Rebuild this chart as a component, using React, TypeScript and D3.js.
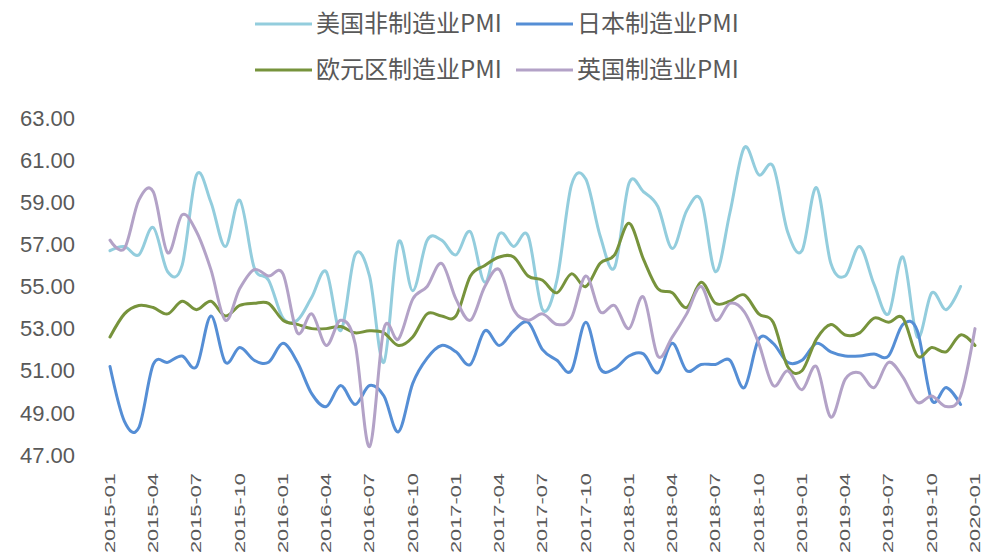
import React from "react";
import * as d3 from "d3";

// month categories 2015-01 .. 2020-01
const months = d3
    .timeMonth.range(new Date(2015, 0, 1), new Date(2020, 1, 1))
    .map(d3.timeFormat("%Y-%m"));

const tickLabels = [
    "2015-01", "2015-04", "2015-07", "2015-10",
    "2016-01", "2016-04", "2016-07", "2016-10",
    "2017-01", "2017-04", "2017-07", "2017-10",
    "2018-01", "2018-04", "2018-07", "2018-10",
    "2019-01", "2019-04", "2019-07", "2019-10",
    "2020-01",
];

const yTicks = [47, 49, 51, 53, 55, 57, 59, 61, 63];

const usServices = [
    56.7, 56.9, 56.5, 57.8, 55.7, 56.0, 60.3, 59.0, 56.9, 59.1, 55.9, 55.3,
    53.5, 53.4, 54.5, 55.7, 52.9, 56.5, 55.5, 51.4, 57.1, 54.8, 57.2, 57.2,
    56.5, 57.6, 55.2, 57.5, 56.9, 57.4, 53.9, 55.3, 59.8, 60.1, 57.4, 55.9,
    59.9, 59.5, 58.8, 56.8, 58.6, 59.1, 55.7, 58.5, 61.6, 60.3, 60.7, 57.6,
    56.7, 59.7, 56.1, 55.5, 56.9, 55.1, 53.7, 56.4, 52.6, 54.7, 53.9, 55.0,
];

const japanMfg = [
    51.2, 48.6, 48.3, 51.3, 51.4, 51.7, 51.2, 53.6, 51.4, 52.1, 51.5, 51.4,
    52.3, 51.4, 49.9, 49.3, 50.3, 49.4, 50.3, 49.8, 48.1, 50.4, 51.6, 52.2,
    51.9, 51.3, 52.9, 52.2, 52.9, 53.3, 52.0, 51.5, 51.0, 53.3, 51.1, 51.1,
    51.7, 51.8, 50.9, 52.3, 51.0, 51.3, 51.3, 51.5, 50.2, 52.5, 52.3, 51.4,
    51.5, 52.3, 51.9, 51.7, 51.7, 51.8, 51.7, 53.2, 52.9, 49.6, 50.2, 49.4,
];

const euroMfg = [
    52.6, 53.7, 54.1, 54.0, 53.7, 54.3, 53.9, 54.3, 53.6, 54.1, 54.2, 54.2,
    53.4, 53.2, 53.0, 53.0, 53.1, 52.8, 52.9, 52.8, 52.2, 52.6, 53.7, 53.6,
    53.6, 55.5, 56.0, 56.4, 56.4, 55.5, 55.3, 54.7, 55.6, 55.0, 56.1, 56.5,
    58.0, 56.3, 54.9, 54.7, 54.0, 55.2, 54.2, 54.3, 54.6, 53.7, 53.3, 51.2,
    51.0, 52.5, 53.2, 52.7, 52.8, 53.5, 53.3, 53.5, 51.7, 52.1, 51.9, 52.7,
    52.2,
];

const ukMfg = [
    57.2, 56.8, 59.1, 59.5, 56.6, 58.4, 57.6, 55.8, 53.4, 54.9, 55.8, 55.5,
    55.6, 52.8, 53.7, 52.2, 53.4, 52.3, 47.4, 53.0, 52.5, 54.4, 55.0, 56.1,
    54.4, 53.4, 55.0, 55.8, 53.9, 53.4, 53.7, 53.2, 53.5, 55.5, 53.8, 54.1,
    53.0, 54.5, 51.7, 52.6, 53.7, 55.0, 53.4, 54.2, 53.8, 52.3, 50.3, 51.0,
    50.1, 51.2, 48.8, 50.6, 50.9, 50.2, 51.4, 50.7, 49.5, 49.8, 49.3, 49.8,
    53.0,
];

const series = [
    { name: "美国非制造业PMI", color: "#93CDDD", values: usServices },
    { name: "日本制造业PMI", color: "#558ED5", values: japanMfg },
    { name: "欧元区制造业PMI", color: "#77933C", values: euroMfg },
    { name: "英国制造业PMI", color: "#B3A2C7", values: ukMfg },
];

const W = 989;
const H = 556;
const textColor = "#595959";

export default function App() {
    const x = d3.scalePoint<string>().domain(months).range([110, 975]);
    const y = d3.scaleLinear().domain([47, 63]).range([455, 118]);

    const line = d3
        .line<number>()
        .x((d, i) => x(months[i]) as number)
        .y((d) => y(d))
        .curve(d3.curveCatmullRom.alpha(0));

    const fmt = d3.format(".2f");

    // legend layout: two rows, two items each
    const legendPos = [
        { lx: 255, ly: 24 },
        { lx: 516, ly: 24 },
        { lx: 255, ly: 70 },
        { lx: 516, ly: 70 },
    ];

    return (
        <svg
            width={W}
            height={H}
            style={{ position: "fixed", left: 0, top: 0, background: "#fff" }}
            fontFamily='"Liberation Sans", "Noto Sans CJK SC", sans-serif'
        >
            <rect width={W} height={H} fill="#fff" />

            <g>
                {yTicks.map((t) => (
                    <text
                        key={t}
                        x={75}
                        y={y(t)}
                        dy="0.35em"
                        textAnchor="end"
                        fontSize={22}
                        fill={textColor}
                    >
                        {fmt(t)}
                    </text>
                ))}
            </g>

            <g>
                {tickLabels.map((t) => (
                    <text
                        key={t}
                        transform={`translate(${x(t)},473) rotate(-90)`}
                        dy="0.35em"
                        textAnchor="end"
                        fontSize={14}
                        textLength={80}
                        lengthAdjust="spacingAndGlyphs"
                        fill={textColor}
                    >
                        {t}
                    </text>
                ))}
            </g>

            <g fill="none" strokeWidth={3} strokeLinejoin="round" strokeLinecap="round">
                {series.map((s) => (
                    <path key={s.name} d={line(s.values) as string} stroke={s.color} />
                ))}
            </g>

            <g>
                {series.map((s, i) => {
                    const p = legendPos[i];
                    return (
                        <g key={s.name}>
                            <line
                                x1={p.lx}
                                x2={p.lx + 57}
                                y1={p.ly}
                                y2={p.ly}
                                stroke={s.color}
                                strokeWidth={3}
                            />
                            <text
                                x={p.lx + 61}
                                y={p.ly}
                                dy="0.35em"
                                fontSize={24}
                                fill={textColor}
                                fontFamily='"Noto Sans CJK SC", sans-serif'
                            >
                                {s.name}
                            </text>
                        </g>
                    );
                })}
            </g>
        </svg>
    );
}
